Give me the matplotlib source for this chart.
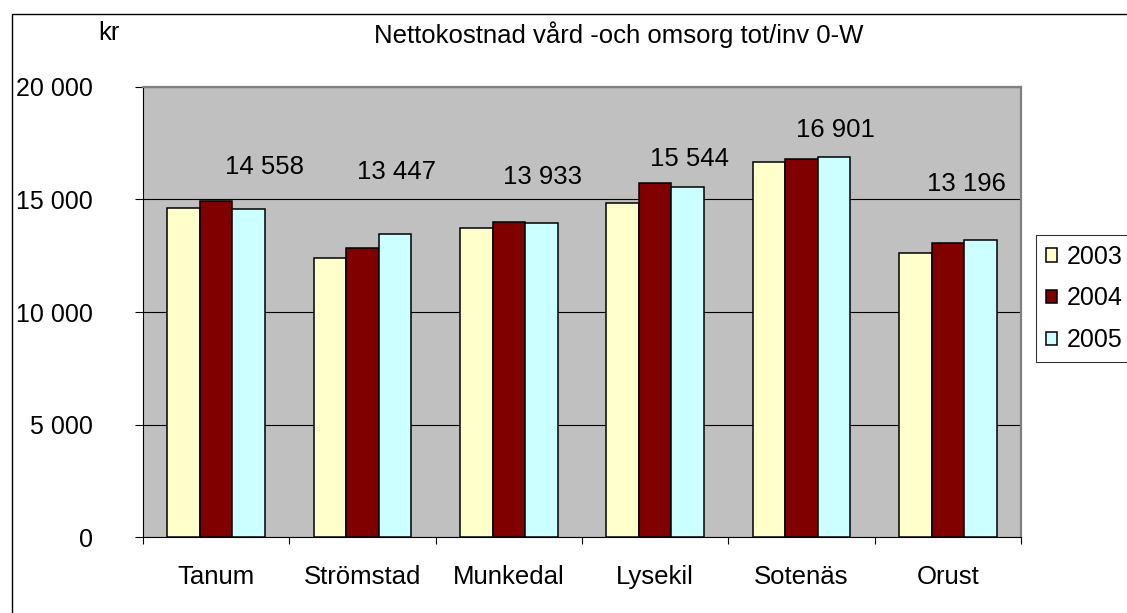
import numpy as np
import matplotlib
matplotlib.use('Agg')
import matplotlib.pyplot as plt
from matplotlib.lines import Line2D
from matplotlib.ticker import FuncFormatter

plt.rcParams['font.family'] = ['Liberation Sans', 'DejaVu Sans']

# data
kommuner = ['Tanum', 'Strömstad', 'Munkedal', 'Lysekil', 'Sotenäs', 'Orust']
years = ['2003', '2004', '2005']
v2003 = [14620, 12380, 13740, 14830, 16650, 12600]
v2004 = [14930, 12825, 13990, 15740, 16810, 13045]
v2005 = [14558, 13447, 13933, 15544, 16901, 13196]
colors = ['#FFFFCC', '#800000', '#CCFFFF']

# hand-placed value labels (pixel offsets from top of 2005 bar)
label_dx = [16, 2, 1, 2, 1, -14]
label_dy = [42, 62, 46, 28, 27, 56]

fs = 18.5
W, H = 1127, 613
fig = plt.figure(figsize=(W / 100, H / 100), dpi=100)
ax = fig.add_axes([143 / W, 1 - 537.3 / H, (1021 - 143) / W, (537.3 - 86.7) / H])
ax.set_facecolor('#C0C0C0')

x = np.arange(len(kommuner))
bw = 0.222
for i, (vals, c, yr) in enumerate(zip([v2003, v2004, v2005], colors, years)):
    ax.bar(x + (i - 1) * bw, vals, bw, color=c, edgecolor='black', linewidth=1.1,
           label=yr, zorder=3)

for xi, v, dx, dy in zip(x, v2005, label_dx, label_dy):
    txt = f'{v:,}'.replace(',', ' ')
    ax.annotate(txt, (xi + bw, v), xytext=(dx, dy), textcoords='offset pixels',
                ha='center', va='center', fontsize=fs, zorder=4)

ax.set_xlim(-0.5, len(kommuner) - 0.5)
ax.set_ylim(0, 20000)
ax.set_yticks(np.arange(0, 20001, 5000))
ax.yaxis.set_major_formatter(FuncFormatter(lambda v, p: f'{int(v):,}'.replace(',', ' ')))
ax.grid(axis='y', color='black', linewidth=0.8, zorder=1)

ax.set_xticks(np.arange(-0.5, len(kommuner), 1))
ax.set_xticklabels([])
ax.set_xticks(x, minor=True)
ax.set_xticklabels(kommuner, minor=True)
ax.tick_params(axis='x', which='major', length=5, direction='out', color='black', width=0.8)
ax.tick_params(axis='x', which='minor', length=0, pad=20, labelsize=fs)
ax.tick_params(axis='y', length=6, direction='out', width=0.8, pad=30, labelsize=18)

for s in ['top', 'right']:
    ax.spines[s].set_color('#808080')
    ax.spines[s].set_linewidth(1.6)
for s in ['left', 'bottom']:
    ax.spines[s].set_color('black')
    ax.spines[s].set_linewidth(0.8)

leg = fig.legend(loc='upper left', bbox_to_anchor=(1036 / W, 1 - 234.7 / H),
                 fontsize=18, frameon=True, fancybox=False, handlelength=0.45,
                 handleheight=0.45, handletextpad=0.4, labelspacing=0.71,
                 borderpad=0.4, borderaxespad=0)
leg.get_frame().set_edgecolor('black')
leg.get_frame().set_linewidth(0.8)

fig.text(109 / W, 1 - 33 / H, 'kr', ha='center', va='center', fontsize=fs)
fig.text(619 / W, 1 - 35 / H, 'Nettokostnad vård -och omsorg tot/inv 0-W',
         ha='center', va='center', fontsize=fs)

# outer chart border (only left and top edges fall inside the picture)
fig.add_artist(Line2D([12 / W, 12 / W, 1], [0, 1 - 14 / H, 1 - 14 / H],
                      transform=fig.transFigure, color='black', linewidth=1))

fig.savefig('out.png', dpi=100)
